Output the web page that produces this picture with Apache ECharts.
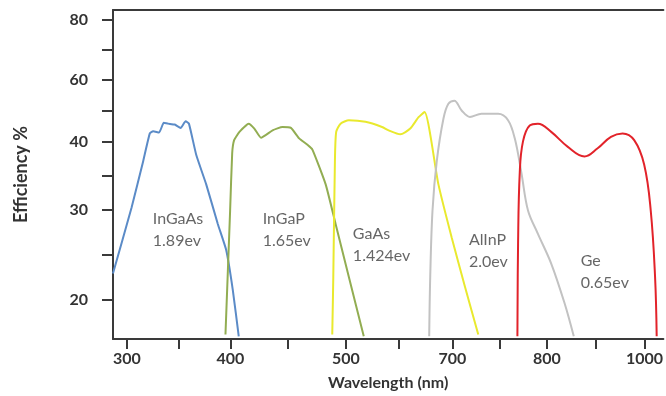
<!DOCTYPE html>
<html>
<head>
<meta charset="utf-8">
<script src="https://cdn.jsdelivr.net/npm/echarts@6/dist/echarts.min.js"></script>
<style>
  html, body { margin: 0; background: #fff; }
  #chart { width: 666px; height: 396px; }
</style>
</head>
<body>
<div id="chart"></div>
<script>
// tick labels as printed on the axes
var xTickLabels = [300, 400, 500, 700, 800, 1000]
var xMinorTicks = [350, 450, 600, 750, 900]
var yTickLabels = [20, 30, 40, 60, 80]
var yMinorTicks = [25, 35, 50, 70]

// cells: name + band gap
var cellNames = ['InGaAs', 'InGaP', 'GaAs', 'AlInP', 'Ge']
var cellGaps = ['1.89ev', '1.65ev', '1.424ev', '2.0ev', '0.65ev']

// [wavelength nm, efficiency %]
var inGaAs = [[286.5, 22.9], [304.5, 30.3], [315.7, 37.1], [322.1, 42.6], [325.3, 43.3], [331.1, 42.9],
  [335.6, 46.1], [339.7, 45.8], [346.2, 45.5], [351.9, 44.4], [356.7, 46.6], [359.9, 45.8],
  [367.0, 38.0], [376.6, 33.7], [387.8, 28.4], [395.9, 25.5], [402.0, 21.1], [407.2, 15.9]]
var inGaP = [[395.2, 16.1], [399.7, 29.9], [401.5, 38.2], [403.2, 40.4], [407.8, 43.1], [415.8, 45.8],
  [420.7, 44.2], [426.5, 41.2], [436.5, 43.6], [445.1, 44.7], [452.4, 44.4], [459.5, 41.0],
  [466.7, 39.5], [471.0, 38.8], [482.5, 33.7], [491.1, 28.4], [505.6, 22.5], [533.6, 15.9]]
var gaAs = [[488.2, 16.1], [489.1, 22.5], [490.5, 37.1], [491.6, 43.1], [495.4, 45.8], [505.6, 46.9],
  [536.8, 46.4], [567.9, 44.7], [580.4, 43.6], [602.2, 42.3], [620.9, 44.2], [636.5, 47.9],
  [647.7, 49.6], [673.8, 33.7], [698.7, 26.9], [713.4, 21.4], [727.4, 16.1]]
var alInP = [[656.5, 15.9], [658.4, 22.5], [662.7, 29.9], [670.7, 37.1], [683.2, 47.4], [692.5, 52.3],
  [702.1, 53.3], [709.8, 50.1], [718.6, 48.0], [730.8, 49.0], [748.4, 49.0], [758.9, 46.9],
  [766.0, 41.0], [772.9, 35.5], [780.0, 29.9], [790.5, 27.3], [808.8, 24.0], [836.1, 19.6], [855.1, 15.9]]
var ge = [[768.8, 15.9], [769.5, 26.2], [771.3, 35.5], [774.7, 40.0], [781.8, 45.2], [790.5, 45.8],
  [808.8, 43.1], [842.9, 39.2], [877.0, 37.8], [904.1, 39.0], [931.3, 41.5], [955.1, 42.6],
  [979.0, 40.4], [999.4, 36.6], [1012.9, 29.9], [1021.8, 22.5], [1025.1, 15.9]]

// the printed axes are not evenly graduated: where each labelled tick sits along the axis
var xTickAt = [14, 118, 234, 341, 436, 534]
var yTickAt = [40, 131, 200, 262, 323]

function interp(v, xs, ys) {
  var i = 0
  while (i < xs.length - 2 && v > xs[i + 1]) i++
  return ys[i] + (v - xs[i]) * (ys[i + 1] - ys[i]) / (xs[i + 1] - xs[i])
}
function toAxis(pts) {
  return pts.map(function (p) {
    return [interp(p[0], xTickLabels, xTickAt), interp(p[1], yTickLabels, yTickAt)]
  })
}
function nearLabel(v, at, labels) {
  for (var i = 0; i < at.length; i++) {
    if (Math.abs(at[i] - v) < 0.5) return String(labels[i])
  }
  return ''
}

var xLabelVals = xTickLabels.map(function (w) { return interp(w, xTickLabels, xTickAt) })
var xTickVals = xTickLabels.concat(xMinorTicks).map(function (w) { return interp(w, xTickLabels, xTickAt) })
var yLabelVals = yTickLabels.map(function (e) { return interp(e, yTickLabels, yTickAt) })
var yTickVals = yTickLabels.concat(yMinorTicks).map(function (e) { return interp(e, yTickLabels, yTickAt) })

var curves = [inGaAs, inGaP, gaAs, alInP, ge]
var colors = ['#5b8bc7', '#92ad52', '#e9e92e', '#c2c2c2', '#e2232a']
var smooths = [0.15, 0.15, 0.2, 0.35, 0.4]
// where each cell's caption starts (wavelength, efficiency)
var captionAt = [[325, 30.3], [427.9, 30.3], [513.1, 28.5], [717.5, 27.9], [869.4, 25.5]]

var axisColor = '#3a3a3a'
var font = 'Lato, "Open Sans", sans-serif'

var series = curves.map(function (c, i) {
  return {
    name: cellNames[i],
    type: 'line',
    data: toAxis(c),
    showSymbol: false,
    smooth: smooths[i],
    lineStyle: { color: colors[i], width: 2 },
    z: 2
  }
})
series.push({
  type: 'scatter',
  silent: true,
  symbolSize: 0,
  data: toAxis(captionAt).map(function (p, i) {
    return [p[0], p[1], cellNames[i], cellGaps[i]]
  }),
  label: {
    show: true,
    position: [0, 0],
    align: 'left',
    verticalAlign: 'top',
    fontFamily: font,
    fontSize: 16,
    lineHeight: 22,
    color: '#404040',
    formatter: function (p) { return p.data[2] + '\n' + p.data[3] }
  },
  z: 3
})

var chart = echarts.init(document.getElementById('chart'), null, { renderer: 'canvas' })
chart.setOption({
  animation: false,
  grid: { left: 113, right: 0, top: 10, bottom: 53 },
  xAxis: [{
    type: 'value',
    min: 0,
    max: 553,
    name: 'Wavelength (nm)',
    nameLocation: 'middle',
    nameGap: 36,
    nameTextStyle: { fontFamily: font, fontSize: 16, fontWeight: 'bold', color: '#333' },
    axisLine: { show: true, lineStyle: { color: axisColor, width: 2 } },
    axisTick: { show: true, length: 10, customValues: xTickVals, lineStyle: { color: axisColor, width: 2 } },
    axisLabel: {
      customValues: xLabelVals,
      margin: 12,
      fontFamily: font, fontSize: 16, fontWeight: 'bold', color: '#333',
      formatter: function (v) { return nearLabel(v, xLabelVals, xTickLabels) }
    },
    splitLine: { show: false }
  }, {
    type: 'value',
    position: 'top',
    min: 0,
    max: 553,
    axisLine: { show: true, lineStyle: { color: axisColor, width: 2 } },
    axisTick: { show: false },
    axisLabel: { show: false },
    splitLine: { show: false }
  }],
  yAxis: {
    type: 'value',
    min: 0,
    max: 333,
    name: 'Efficiency %',
    nameLocation: 'middle',
    nameRotate: 90,
    nameGap: 83,
    nameTextStyle: { fontFamily: font, fontSize: 18, fontWeight: 'bold', color: '#333' },
    axisLine: { show: true, lineStyle: { color: axisColor, width: 2 } },
    axisTick: { show: true, length: 11, customValues: yTickVals, lineStyle: { color: axisColor, width: 2 } },
    axisLabel: {
      customValues: yLabelVals,
      margin: 25,
      fontFamily: font, fontSize: 16, fontWeight: 'bold', color: '#333',
      formatter: function (v) { return nearLabel(v, yLabelVals, yTickLabels) }
    },
    splitLine: { show: false }
  },
  series: series
})
</script>
</body>
</html>
